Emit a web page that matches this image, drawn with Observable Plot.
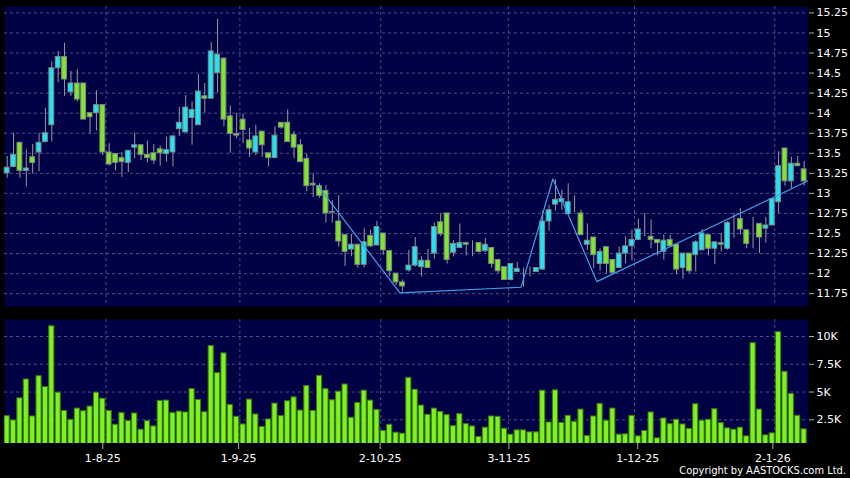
<!DOCTYPE html>
<html><head><meta charset="utf-8">
<script src="https://cdn.jsdelivr.net/npm/d3@7"></script>
<script src="https://cdn.jsdelivr.net/npm/@observablehq/plot@0.6"></script>
<style>
html,body{margin:0;padding:0;background:#000;}
#wrap{position:relative;width:850px;height:478px;background:#000;overflow:hidden;font-family:"DejaVu Sans",sans-serif;}
#price{position:absolute;left:0;top:0;}
#vol{position:absolute;left:0;top:310px;}
#copy{position:absolute;right:4px;top:464px;color:#fff;font-family:"DejaVu Sans Condensed","DejaVu Sans",sans-serif;font-stretch:condensed;font-size:11px;white-space:nowrap;}
</style></head><body>
<div id="wrap"><div id="price"></div><div id="vol"></div><div id="copy">Copyright by AASTOCKS.com Ltd.</div></div>
<script>
const open  = [13.25,13.33,13.63,13.28,13.45,13.51,13.64,13.85,14.56,14.70,14.26,14.37,14.37,14.00,14.00,14.10,13.51,13.49,13.44,13.38,13.57,13.60,13.48,13.50,13.55,13.49,13.51,13.80,13.76,13.94,13.85,14.21,14.18,14.50,14.68,13.96,13.74,13.92,13.66,13.51,13.77,13.50,13.44,13.88,13.88,13.73,13.60,13.43,13.12,13.09,13.03,12.77,12.65,12.48,12.30,12.36,12.11,12.47,12.35,12.50,12.28,12.00,11.89,12.04,12.10,12.08,12.16,12.25,12.64,12.75,12.26,12.32,12.38,12.35,12.38,12.28,12.32,12.17,12.08,11.92,12.02,12.00,12.02,12.02,12.05,12.65,12.86,12.89,12.74,12.86,12.75,12.36,12.45,12.12,12.33,12.17,12.07,12.25,12.34,12.42,12.55,12.46,12.42,12.27,12.42,12.36,12.07,12.25,12.23,12.29,12.48,12.31,12.38,12.31,12.68,12.68,12.54,12.49,12.62,12.56,12.60,12.89,13.56,13.15,13.37,13.30];
const high  = [13.46,13.75,13.64,13.54,13.61,13.75,14.06,14.64,14.77,14.87,14.52,14.54,14.37,14.00,14.28,14.10,13.62,13.49,13.51,13.53,13.75,13.60,13.65,13.61,13.59,13.70,13.72,14.07,14.22,14.14,14.48,14.37,14.88,15.17,14.69,14.09,14.00,13.99,13.81,13.85,13.77,13.50,13.83,13.88,14.04,13.77,13.67,13.49,13.24,13.12,13.10,12.91,12.97,12.48,12.49,12.36,12.56,12.54,12.65,12.50,12.28,12.00,11.92,12.29,12.45,12.21,12.30,12.63,12.75,12.75,12.41,12.62,12.39,12.41,12.38,12.44,12.32,12.17,12.08,12.12,12.14,12.07,12.08,12.07,12.78,12.85,13.17,13.04,13.12,12.97,12.79,12.62,12.45,12.31,12.33,12.17,12.33,12.46,12.54,12.68,12.75,12.67,12.42,12.48,12.48,12.36,12.25,12.25,12.41,12.55,12.48,12.39,12.50,12.65,12.75,12.81,12.54,12.70,12.62,12.70,12.93,13.52,13.56,13.45,13.46,13.40];
const low   = [13.19,13.32,13.19,13.08,13.24,13.27,13.63,13.64,14.38,14.21,14.21,14.14,13.92,13.74,13.78,13.47,13.34,13.28,13.20,13.26,13.43,13.41,13.38,13.36,13.34,13.39,13.33,13.71,13.76,13.60,13.85,14.00,14.18,14.25,13.83,13.50,13.68,13.62,13.45,13.47,13.45,13.33,13.44,13.80,13.64,13.43,13.39,13.02,12.95,12.94,12.63,12.63,12.33,12.09,12.21,12.07,12.07,12.33,12.35,12.23,11.96,11.85,11.77,12.02,12.08,11.96,12.07,12.18,12.46,12.12,12.21,12.31,12.22,12.21,12.26,12.26,12.07,12.00,11.92,11.91,12.01,11.83,11.96,12.02,12.05,12.53,12.78,12.79,12.74,12.76,12.48,12.29,12.06,12.03,12.00,12.00,12.07,12.12,12.16,12.42,12.46,12.31,12.22,12.17,12.34,11.99,11.93,12.00,12.02,12.29,12.22,12.11,12.27,12.29,12.44,12.48,12.31,12.31,12.25,12.38,12.60,12.75,13.09,13.06,13.33,13.09];
const close = [13.32,13.48,13.28,13.31,13.38,13.63,13.75,14.56,14.70,14.42,14.37,14.17,13.92,13.95,14.10,13.51,13.36,13.38,13.39,13.53,13.60,13.48,13.44,13.41,13.50,13.54,13.71,13.88,14.07,14.04,14.27,14.18,14.77,14.73,13.92,13.74,13.72,13.79,13.56,13.71,13.60,13.44,13.72,13.82,13.64,13.57,13.39,13.09,13.10,12.97,12.75,12.76,12.40,12.27,12.36,12.11,12.39,12.34,12.58,12.29,12.03,11.89,11.84,12.10,12.33,12.16,12.07,12.58,12.49,12.17,12.37,12.38,12.36,12.35,12.27,12.36,12.12,12.03,11.92,12.12,12.06,12.00,12.02,12.07,12.65,12.79,12.92,12.93,12.89,12.86,12.48,12.41,12.23,12.27,12.12,12.01,12.25,12.34,12.42,12.55,12.55,12.42,12.38,12.41,12.34,12.05,12.25,12.03,12.39,12.50,12.31,12.39,12.36,12.63,12.68,12.55,12.37,12.49,12.45,12.60,12.93,13.34,13.15,13.37,13.34,13.15];
const volume = [2830,2440,4430,6130,2800,6430,5450,10920,4940,3300,2500,3510,3270,3690,4940,4400,3300,2050,3100,2380,3070,1610,2380,1900,4200,4230,3100,3240,3160,5270,4290,3180,9140,6700,8480,3840,2770,2080,4320,2980,1850,2530,3960,2830,4170,4520,3330,5540,3300,6460,5270,4260,5030,5680,2680,4020,5120,4230,3390,1490,2050,1340,1250,6280,5210,3780,2950,3510,3210,2920,1930,3010,2110,1900,950,1790,2800,2770,1700,1160,1550,1550,1370,1370,5120,2260,5150,2230,2860,2320,3420,1040,2800,3930,2410,3510,1160,1190,2860,1010,1490,3160,830,2620,2110,2500,2080,1670,3900,2410,2500,3450,2200,1730,1610,1790,1010,9400,3420,1100,1280,10390,6820,4820,2860,1640];
// drawn pattern line (candle index, price)
const trendIdx   = [49.7, 62.6, 81.6, 86.6, 93.5, 126.7];
const trendPrice = [13.10, 11.76, 11.83, 13.18, 11.90, 13.16];
// axes
const priceTicks = [11.75,12,12.25,12.5,12.75,13,13.25,13.5,13.75,14,14.25,14.5,14.75,15,15.25];
const volTicks = [2500,5000,7500,10000];
const dateTickIdx = [16.0, 37.3, 59.5, 79.7, 99.9, 121.1];
const dateGridIdx = [16.5, 37.5, 59.6, 79.6, 99.4, 121.4];
const dateLabels = ["1-8-25","1-9-25","2-10-25","3-11-25","1-12-25","2-1-26"];

const candles = open.map((o,k)=>({i:k+1,o,h:high[k],l:low[k],c:close[k],v:volume[k]}));
const trend = trendIdx.map((i,k)=>({i,p:trendPrice[k]}));

const BG="#000044", GRID="#4e4e88", CYAN="#22e4f0", GREEN="#80e626", VOLG="#7df21c";
const xs = {type:"linear", domain:[0.58,126.69]};
const font = {background:"transparent", color:"#fff", fontFamily:"DejaVu Sans", fontSize:"11px"};

const price = Plot.plot({
  width:850, height:310, marginLeft:4, marginRight:42, marginTop:6, marginBottom:4,
  style:font,
  x:{...xs, axis:null},
  y:{domain:[11.59,15.33], axis:null},
  marks:[
    Plot.frame({fill:BG, stroke:null}),
    Plot.gridY(priceTicks,{stroke:GRID, strokeOpacity:1, strokeDasharray:"3,3"}),
    Plot.ruleX(dateGridIdx,{stroke:GRID, strokeOpacity:1, strokeDasharray:"3,3"}),
    Plot.ruleX(candles,{x:"i", y1:"l", y2:"h", stroke:"#9a9a9a"}),
    Plot.rect(candles,{x1:d=>d.i-0.38, x2:d=>d.i+0.38, y1:"o", y2:"c",
      fill:d=>d.c>d.o?CYAN:d.c<d.o?GREEN:"#9a9a9a", stroke:"#7d8a8a", strokeWidth:1}),
    Plot.line(trend,{x:"i", y:"p", stroke:"#3fa0e6", strokeWidth:1.2, clip:true}),
    Plot.axisY(priceTicks,{anchor:"right", tickFormat:d=>String(d), tickSize:5, tickPadding:3, stroke:"#aaa", fill:"#fff", label:null})
  ]
});
document.getElementById("price").appendChild(price);

const vol = Plot.plot({
  width:850, height:168, marginLeft:4, marginRight:42, marginTop:9, marginBottom:35,
  style:font,
  x:{...xs},
  y:{domain:[366,11531], axis:null},
  marks:[
    Plot.frame({fill:BG, stroke:null}),
    Plot.gridY(volTicks,{stroke:GRID, strokeOpacity:1, strokeDasharray:"3,3"}),
    Plot.ruleX(dateGridIdx,{stroke:GRID, strokeOpacity:1, strokeDasharray:"3,3"}),
    Plot.rectY(candles,{x1:d=>d.i-0.4, x2:d=>d.i+0.4, y:"v", fill:VOLG, stroke:"#3d7a12", strokeWidth:1, clip:true}),
    Plot.axisY(volTicks,{anchor:"right", tickFormat:d=>(d/1000)+"K", tickSize:5, tickPadding:3, stroke:"#aaa", fill:"#fff", label:null}),
    Plot.axisX(dateTickIdx,{tickFormat:(d,k)=>dateLabels[k], tickSize:6, tickPadding:5, stroke:"#aaa", fill:"#fff", label:null})
  ]
});
document.getElementById("vol").appendChild(vol);
</script>
</body></html>
